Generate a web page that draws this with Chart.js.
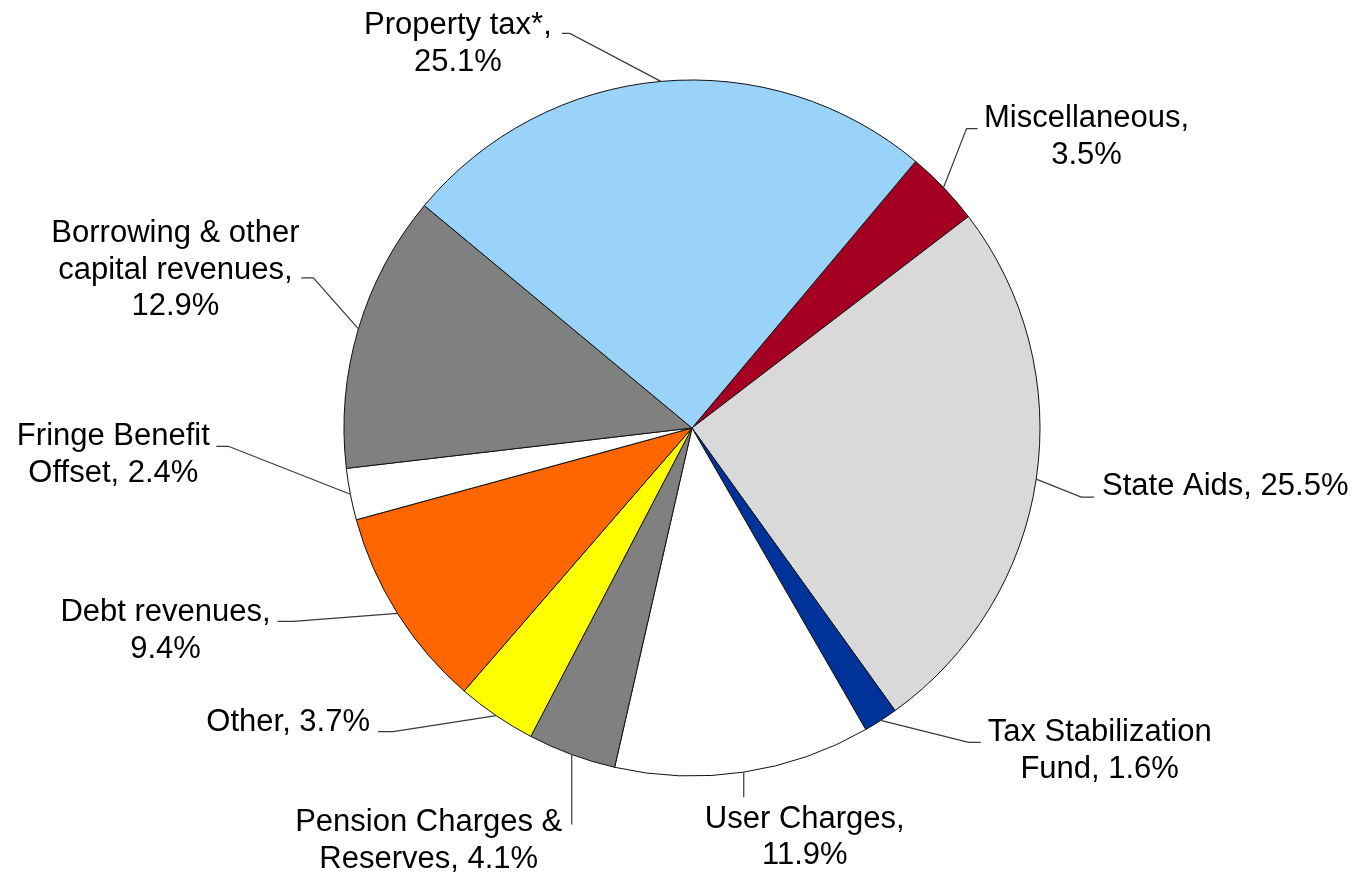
<!DOCTYPE html>
<html>
<head>
<meta charset="utf-8">
<script src="https://cdn.jsdelivr.net/npm/chart.js@4.4.0/dist/chart.umd.min.js"></script>
<style>
  body { margin: 0; background: #fff; }
  #wrap { width: 1356px; height: 876px; }
</style>
</head>
<body>
<div id="wrap"><canvas id="revenueChart" width="1356" height="876"></canvas></div>
<script>
// revenue sources, clockwise starting after Property tax
const categories = ['Miscellaneous', 'State Aids', 'Tax Stabilization Fund', 'User Charges',
  'Pension Charges & Reserves', 'Other', 'Debt revenues', 'Fringe Benefit Offset',
  'Borrowing & other capital revenues', 'Property tax*'];
const shares = [3.5, 25.5, 1.6, 11.9, 4.1, 3.7, 9.4, 2.4, 12.9, 25.1];
const sliceColors = ['#A50021', '#D9D9D9', '#003399', '#FFFFFF', '#808080',
  '#FFFF00', '#FF6600', '#FFFFFF', '#808080', '#99D3FA'];

// label text, {p} gets the share
const labelLines = [
  ['Miscellaneous,', '{p}'],
  ['State Aids, {p}'],
  ['Tax Stabilization', 'Fund, {p}'],
  ['User Charges,', '{p}'],
  ['Pension Charges &', 'Reserves, {p}'],
  ['Other, {p}'],
  ['Debt revenues,', '{p}'],
  ['Fringe Benefit', 'Offset, {p}'],
  ['Borrowing & other', 'capital revenues,', '{p}'],
  ['Property tax*,', '{p}']
];

// label placement relative to the slice's outer edge point:
// [text dx, text dy, elbow dx, elbow dy, stub length]
const labelPlace = [
  [143, -53, 23, -59, 11],
  [189, 5, 45, 18, 13],
  [219, 28, 88, 22, 12],
  [61, 63, 0, 25, 0],
  [-143, 84, 0, 70, 0],
  [-208, 4, -103, 16, -15],
  [-232, 15, -104, 8, -16],
  [-237, -42, -122, -48, -12],
  [-183, -61, -45, -51, -12],
  [-203, -40, -91, -48, -8]
];

const FONT_SIZE = 31;
const LINE_H = 36.5;

const pieLabels = {
  id: 'pieLabels',
  afterDatasetsDraw(chart) {
    const ctx = chart.ctx;
    const arcs = chart.getDatasetMeta(0).data;
    ctx.save();
    arcs.forEach((arc, i) => {
      const p = arc.getProps(['x', 'y', 'startAngle', 'endAngle', 'outerRadius'], true);
      const mid = (p.startAngle + p.endAngle) / 2;
      const ex = p.x + Math.cos(mid) * p.outerRadius;
      const ey = p.y + Math.sin(mid) * p.outerRadius;
      const pl = labelPlace[i];

      // leader line
      ctx.strokeStyle = '#3a3a3a';
      ctx.lineWidth = 1.2;
      ctx.beginPath();
      ctx.moveTo(ex, ey);
      ctx.lineTo(ex + pl[2], ey + pl[3]);
      if (pl[4] !== 0) ctx.lineTo(ex + pl[2] + pl[4], ey + pl[3]);
      ctx.stroke();

      // text
      const pct = shares[i].toFixed(1) + '%';
      const lines = labelLines[i].map(s => s.replace('{p}', pct));
      ctx.fillStyle = '#000';
      ctx.font = FONT_SIZE + 'px "Liberation Sans", Arial, sans-serif';
      ctx.textAlign = 'center';
      ctx.textBaseline = 'alphabetic';
      const cx = ex + pl[0];
      const cy = ey + pl[1];
      lines.forEach((ln, k) => {
        const y = cy + (k - (lines.length - 1) / 2) * LINE_H + 11;
        ctx.fillText(ln, cx, y);
      });
    });
    ctx.restore();
  }
};

new Chart(document.getElementById('revenueChart'), {
  type: 'pie',
  data: {
    labels: categories,
    datasets: [{
      data: shares,
      backgroundColor: sliceColors,
      borderColor: '#111',
      borderWidth: 1
    }]
  },
  options: {
    responsive: false,
    animation: false,
    rotation: 40,
    radius: 348,
    layout: { padding: { left: 28, right: 0, top: 0, bottom: 20 } },
    plugins: {
      legend: { display: false },
      tooltip: { enabled: false }
    }
  },
  plugins: [pieLabels]
});
</script>
</body>
</html>
